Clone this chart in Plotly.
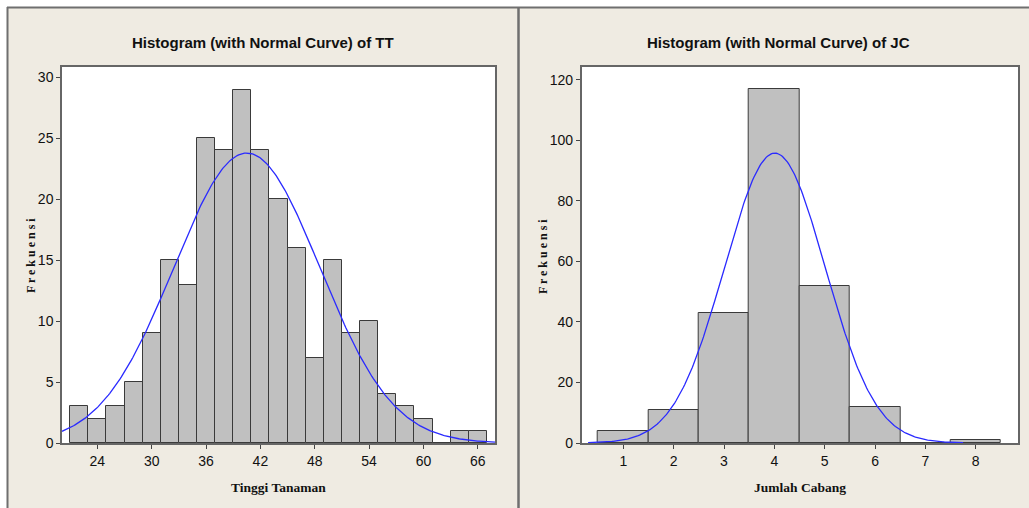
import numpy as np
import plotly.graph_objects as go

W, H = 1029, 508

# ---- data: Tinggi Tanaman (TT) ----
tt_centers = [22, 24, 26, 28, 30, 32, 34, 36, 38, 40, 42, 44, 46, 48, 50, 52, 54, 56, 58, 60, 62, 64, 66]
tt_counts = [3, 2, 3, 5, 9, 15, 13, 25, 24, 29, 24, 20, 16, 7, 15, 9, 10, 4, 3, 2, 0, 1, 1]
tt_binwidth = 2
tt_mean, tt_sd = 40.5, 8.05
tt_xticks = [24, 30, 36, 42, 48, 54, 60, 66]
tt_yticks = [0, 5, 10, 15, 20, 25, 30]

# ---- data: Jumlah Cabang (JC) ----
jc_centers = [1, 2, 3, 4, 5, 6, 7, 8]
jc_counts = [4, 11, 43, 117, 52, 12, 0, 1]
jc_binwidth = 1
jc_mean, jc_sd = 4.01, 1.0
jc_xticks = [1, 2, 3, 4, 5, 6, 7, 8]
jc_yticks = [0, 20, 40, 60, 80, 100, 120]

BG = "#EFEBE2"
BAR = "#C0C0C0"
EDGE = "#3a3a3a"
CURVE = "#2a2aff"
SANS = "Liberation Sans Narrow, Arial Narrow, Liberation Sans, sans-serif"
TICKFONT = dict(family=SANS, size=14, color="#111")
TITLEFONT = dict(family=SANS, size=15, color="#111")
AXFONT = dict(family="Liberation Serif, DejaVu Serif, serif", size=13.5, color="#111")


def px(x):
    return x / W


def py(y):
    return 1 - y / H


def normal_curve(mean, sd, n, bw, x0, x1):
    xs = np.linspace(x0, x1, 300)
    ys = n * bw / (sd * np.sqrt(2 * np.pi)) * np.exp(-0.5 * ((xs - mean) / sd) ** 2)
    return xs, ys


fig = go.Figure()

# TT histogram
fig.add_trace(go.Bar(x=tt_centers, y=tt_counts, width=tt_binwidth,
                     marker=dict(color=BAR, line=dict(color=EDGE, width=1)),
                     xaxis="x", yaxis="y", showlegend=False))
xs, ys = normal_curve(tt_mean, tt_sd, sum(tt_counts), tt_binwidth, 20.1, 67.9)
fig.add_trace(go.Scatter(x=xs, y=ys, mode="lines", line=dict(color=CURVE, width=1.3),
                         xaxis="x", yaxis="y", showlegend=False))

# JC histogram
fig.add_trace(go.Bar(x=jc_centers, y=jc_counts, width=jc_binwidth,
                     marker=dict(color=BAR, line=dict(color=EDGE, width=1)),
                     xaxis="x2", yaxis="y2", showlegend=False))
xs2, ys2 = normal_curve(jc_mean, jc_sd, sum(jc_counts), jc_binwidth, 0.3, 7.75)
fig.add_trace(go.Scatter(x=xs2, y=ys2, mode="lines", line=dict(color=CURVE, width=1.3),
                         xaxis="x2", yaxis="y2", showlegend=False))

axis_common = dict(showline=True, mirror=True, linecolor="#666", linewidth=1.5,
                   ticks="outside", ticklen=4, tickcolor="#444", tickwidth=1,
                   showgrid=False, zeroline=False, tickfont=TICKFONT, automargin=False)

ydom = [py(443), py(67)]

fig.update_layout(
    width=W, height=H,
    margin=dict(l=0, r=0, t=0, b=0, autoexpand=False),
    paper_bgcolor=BG, plot_bgcolor="white",
    bargap=0,
    xaxis=dict(domain=[px(62), px(495)], range=[20.1, 67.9], tickvals=tt_xticks,
               anchor="y", **axis_common),
    yaxis=dict(domain=ydom, range=[0, 30.85], tickvals=tt_yticks, anchor="x", **axis_common),
    xaxis2=dict(domain=[px(581.7), px(1018.3)], range=[0.173, 8.846], tickvals=jc_xticks,
                anchor="y2", **axis_common),
    yaxis2=dict(domain=ydom, range=[0, 124.2], tickvals=jc_yticks, anchor="x2", **axis_common),
)

annotations = [
    dict(text="<b>Histogram (with Normal Curve) of TT</b>", x=px(262.5), y=py(43), font=TITLEFONT),
    dict(text="<b>Histogram (with Normal Curve) of JC</b>", x=px(778), y=py(43), font=TITLEFONT),
    dict(text="<b>Tinggi Tanaman</b>", x=px(278.5), y=py(487), font=AXFONT),
    dict(text="<b>Jumlah Cabang</b>", x=px(800), y=py(487), font=AXFONT),
    dict(text="<b>F r e k u e n s i</b>", x=px(31), y=py(256), font=dict(AXFONT, size=12), textangle=-90),
    dict(text="<b>F r e k u e n s i</b>", x=px(543), y=py(257), font=dict(AXFONT, size=12), textangle=-90),
]
for a in annotations:
    a.update(xref="paper", yref="paper", showarrow=False, xanchor="center", yanchor="middle")
fig.update_layout(annotations=annotations)

shapes = [
    # white outer strips
    dict(type="rect", x0=0, x1=1, y0=py(7), y1=1, fillcolor="white", line=dict(width=0), layer="below"),
    dict(type="rect", x0=0, x1=px(7), y0=0, y1=1, fillcolor="white", line=dict(width=0), layer="below"),
    # frame lines
    dict(type="line", x0=px(7), x1=1, y0=py(7.5), y1=py(7.5), line=dict(color="#6f6f6f", width=2)),
    dict(type="line", x0=px(7.5), x1=px(7.5), y0=0, y1=py(7), line=dict(color="#6f6f6f", width=2)),
    dict(type="line", x0=px(518.5), x1=px(518.5), y0=0, y1=py(7), line=dict(color="#6f6f6f", width=2.5)),
]
for s in shapes:
    s.update(xref="paper", yref="paper")
fig.update_layout(shapes=shapes)

post = (
    "var d=document.documentElement,b=document.body;"
    "d.style.margin='0';d.style.padding='0';d.style.overflow='hidden';"
    "b.style.margin='0';b.style.padding='0';b.style.overflow='hidden';"
    "b.style.background='" + BG + "';"
)

fig.write_html("out.html", config={"displayModeBar": False}, post_script=post)
